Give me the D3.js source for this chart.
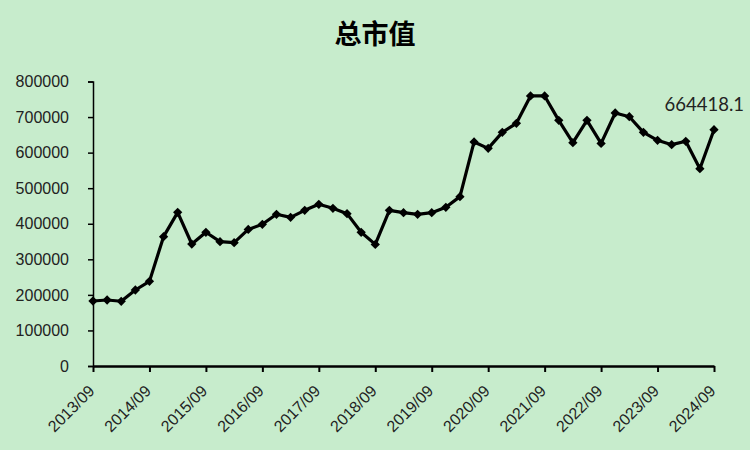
<!DOCTYPE html>
<html><head><meta charset="utf-8">
<script src="https://cdn.jsdelivr.net/npm/d3@7"></script>
<style>body{margin:0;background:#C7ECCC;}svg{display:block;}</style>
</head><body>
<script>
const title = "总市值";
const quarters = ["2013/09","2013/12","2014/03","2014/06","2014/09","2014/12","2015/03","2015/06","2015/09","2015/12","2016/03","2016/06","2016/09","2016/12","2017/03","2017/06","2017/09","2017/12","2018/03","2018/06","2018/09","2018/12","2019/03","2019/06","2019/09","2019/12","2020/03","2020/06","2020/09","2020/12","2021/03","2021/06","2021/09","2021/12","2022/03","2022/06","2022/09","2022/12","2023/03","2023/06","2023/09","2023/12","2024/03","2024/06","2024/09"];
const values = [182800,185600,182000,213700,238000,363700,432000,343000,376000,349700,346900,384000,398500,426600,418000,437800,454700,443500,428400,376000,342000,437800,431200,426600,431200,446200,476200,630000,612000,657000,682400,759300,759300,690800,628000,690800,626000,711500,701000,657000,634600,622400,631800,554800,664418.1];
const tickLabels = ["2013/09","2014/09","2015/09","2016/09","2017/09","2018/09","2019/09","2020/09","2021/09","2022/09","2023/09","2024/09"];
const yTicks = [0,100000,200000,300000,400000,500000,600000,700000,800000];

const W=750,H=450;
const svg=d3.select("body").append("svg").attr("width",W).attr("height",H);
svg.append("rect").attr("width",W).attr("height",H).attr("fill","#C7ECCC");

const x=d3.scalePoint().domain(quarters).range([93,714]);
const y=d3.scaleLinear().domain([0,800000]).range([366,81.5]);

svg.append("text").attr("x",375).attr("y",44).attr("text-anchor","middle")
  .attr("font-family","'Noto Sans CJK SC'").attr("font-weight","bold").attr("font-size",27).attr("fill","#000").text(title);

const ya=svg.append("g").attr("transform","translate(93,0)")
  .call(d3.axisLeft(y).tickValues(yTicks).tickFormat(d3.format("d")).tickSize(5).tickPadding(19));
ya.select(".domain").attr("stroke","#000").attr("stroke-width",1.5);
ya.selectAll(".tick line").attr("stroke","#000").attr("stroke-width",1.5);
ya.selectAll("text").attr("font-family","'Liberation Sans',Arial").style("font-size","16px").attr("fill","#222");

const xa=svg.append("g").attr("transform","translate(0,366)")
  .call(d3.axisBottom(x).tickValues(tickLabels).tickSize(6).tickSizeOuter(0));
xa.select(".domain").attr("stroke","#000").attr("stroke-width",2.5);
xa.selectAll(".tick line").attr("stroke","#000").attr("stroke-width",2);
xa.selectAll("text").attr("font-family","'Liberation Sans',Arial").style("font-size","16px").attr("fill","#222")
  .attr("text-anchor","end").attr("x",0).attr("y",0).attr("dy","0").attr("transform","translate(2,26) rotate(-45)");

const data=quarters.map((q,i)=>({q,v:values[i]}));
svg.append("path").datum(data).attr("fill","none").attr("stroke","#000").attr("stroke-width",3.2).attr("stroke-linejoin","round")
  .attr("d",d3.line().x(d=>x(d.q)).y(d=>y(d.v)));
svg.selectAll(".pt").data(data).enter().append("path").attr("class","pt")
  .attr("transform",d=>`translate(${x(d.q)},${y(d.v)})`)
  .attr("d",d3.symbol(d3.symbolDiamond2 ? d3.symbolDiamond2 : d3.symbolDiamond, 55)).attr("fill","#000");

const last=data[data.length-1];
svg.append("text").attr("x",x(last.q)+30).attr("y",y(last.v)-19).attr("text-anchor","end")
  .attr("font-family","Lato,'Open Sans'").style("font-size","18.5px").attr("fill","#222").text(d3.format(".1f")(last.v));
</script>
</body></html>
